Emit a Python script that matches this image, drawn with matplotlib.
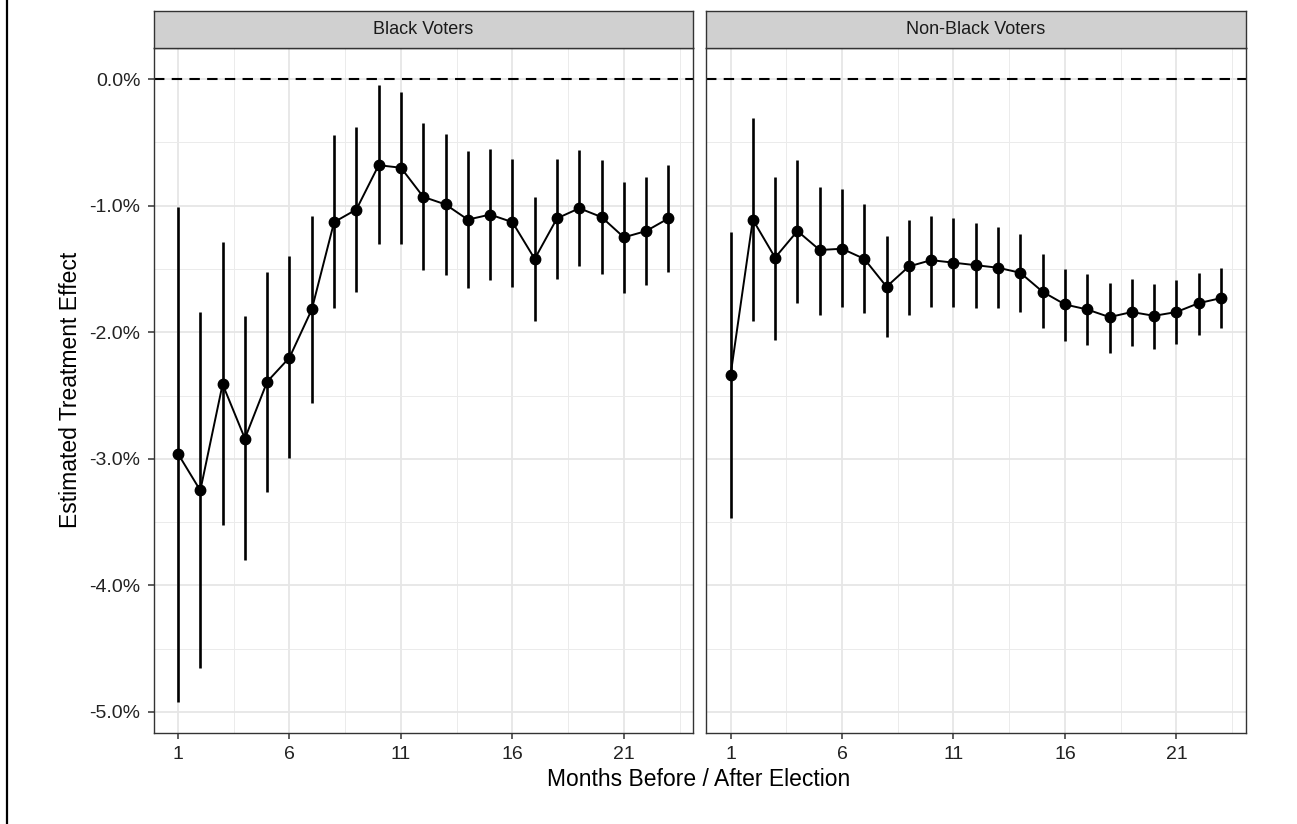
import matplotlib
matplotlib.use("Agg")
import matplotlib.pyplot as plt
from matplotlib.lines import Line2D

plt.rcParams['font.family'] = ['Liberation Sans', 'DejaVu Sans']

months = list(range(1, 24))
panels = ["Black Voters", "Non-Black Voters"]

# estimates in percent
black_est = [-2.96, -3.25, -2.41, -2.84, -2.39, -2.20, -1.82, -1.13, -1.03, -0.68,
             -0.70, -0.93, -0.99, -1.11, -1.07, -1.13, -1.42, -1.10, -1.02, -1.09,
             -1.25, -1.20, -1.10]
black_lo = [-4.92, -4.65, -3.52, -3.80, -3.26, -2.99, -2.56, -1.81, -1.68, -1.30,
            -1.30, -1.51, -1.55, -1.65, -1.59, -1.64, -1.91, -1.58, -1.48, -1.54,
            -1.69, -1.63, -1.52]
black_hi = [-1.01, -1.84, -1.29, -1.87, -1.52, -1.40, -1.08, -0.44, -0.38, -0.05,
            -0.10, -0.35, -0.43, -0.57, -0.55, -0.63, -0.93, -0.63, -0.56, -0.64,
            -0.81, -0.77, -0.68]

nonblack_est = [-2.34, -1.11, -1.41, -1.20, -1.35, -1.34, -1.42, -1.64, -1.48, -1.43,
                -1.45, -1.47, -1.49, -1.53, -1.68, -1.78, -1.82, -1.88, -1.84, -1.87,
                -1.84, -1.77, -1.73]
nonblack_lo = [-3.47, -1.91, -2.06, -1.77, -1.86, -1.80, -1.85, -2.04, -1.86, -1.80,
               -1.80, -1.81, -1.81, -1.84, -1.97, -2.07, -2.10, -2.16, -2.11, -2.13,
               -2.09, -2.02, -1.97]
nonblack_hi = [-1.21, -0.31, -0.77, -0.64, -0.85, -0.87, -0.99, -1.24, -1.11, -1.08,
               -1.10, -1.14, -1.17, -1.22, -1.38, -1.50, -1.54, -1.61, -1.58, -1.62,
               -1.59, -1.53, -1.49]

x_ticks = [1, 6, 11, 16, 21]
y_ticks = [0, -1, -2, -3, -4, -5]
y_labels = ["0.0%", "-1.0%", "-2.0%", "-3.0%", "-4.0%", "-5.0%"]

series = [(black_est, black_lo, black_hi), (nonblack_est, nonblack_lo, nonblack_hi)]

fig = plt.figure(figsize=(12.97, 8.24), dpi=100)
W, H = 1297, 824
lefts = [153.5, 706]
pw = 539.5
bottom_px, top_px, strip_top = 733, 48, 11

for i, (name, (est, lo, hi)) in enumerate(zip(panels, series)):
    ax = fig.add_axes([lefts[i] / W, 1 - bottom_px / H, pw / W, (bottom_px - top_px) / H])
    ax.set_xlim(-0.1, 24.1)
    ax.set_ylim(-5.166, 0.246)
    ax.set_xticks(x_ticks)
    ax.set_xticks([3.5, 8.5, 13.5, 18.5, 23.5], minor=True)
    ax.set_yticks(y_ticks)
    ax.set_yticks([-0.5, -1.5, -2.5, -3.5, -4.5], minor=True)
    ax.grid(which='major', color='#E6E6E6', lw=1.3)
    ax.grid(which='minor', color='#EBEBEB', lw=0.7)
    ax.set_axisbelow(True)
    ax.tick_params(which='major', length=4.3, width=1.1, color='#333333',
                   labelsize=14, labelcolor='#222222', pad=5)
    ax.tick_params(which='minor', length=0)
    if i == 0:
        ax.set_yticklabels(y_labels)
    else:
        ax.tick_params(axis='y', which='major', length=0, labelleft=False)
    for s in ax.spines.values():
        s.set_color('#333333')
        s.set_linewidth(1.0)

    ax.axhline(0, color='black', lw=1.5, ls=(0, (5, 3.5)), zorder=2)
    ax.vlines(months, lo, hi, color='black', lw=1.9, zorder=3)
    ax.plot(months, est, color='black', lw=1.4, marker='o', ms=7.5, zorder=4)

    # facet strip
    sax = fig.add_axes([lefts[i] / W, 1 - top_px / H, pw / W, (top_px - strip_top) / H])
    sax.set_xticks([])
    sax.set_yticks([])
    sax.set_facecolor('#D0D0D0')
    for s in sax.spines.values():
        s.set_color('#333333')
        s.set_linewidth(1.0)
    sax.text(0.5, 0.5, name, ha='center', va='center', fontsize=13,
             color='#1A1A1A', transform=sax.transAxes)

fig.text(71 / W, 1 - 390 / H, "Estimated Treatment Effect", rotation=90,
         ha='center', va='center', fontsize=16.5)
fig.text(699 / W, 1 - 779 / H, "Months Before / After Election",
         ha='center', va='center', fontsize=16.5)

fig.add_artist(Line2D([7 / W, 7 / W], [0, 1], color='black', lw=1.6,
                      transform=fig.transFigure))

fig.savefig("out.png", dpi=100, facecolor='white')
